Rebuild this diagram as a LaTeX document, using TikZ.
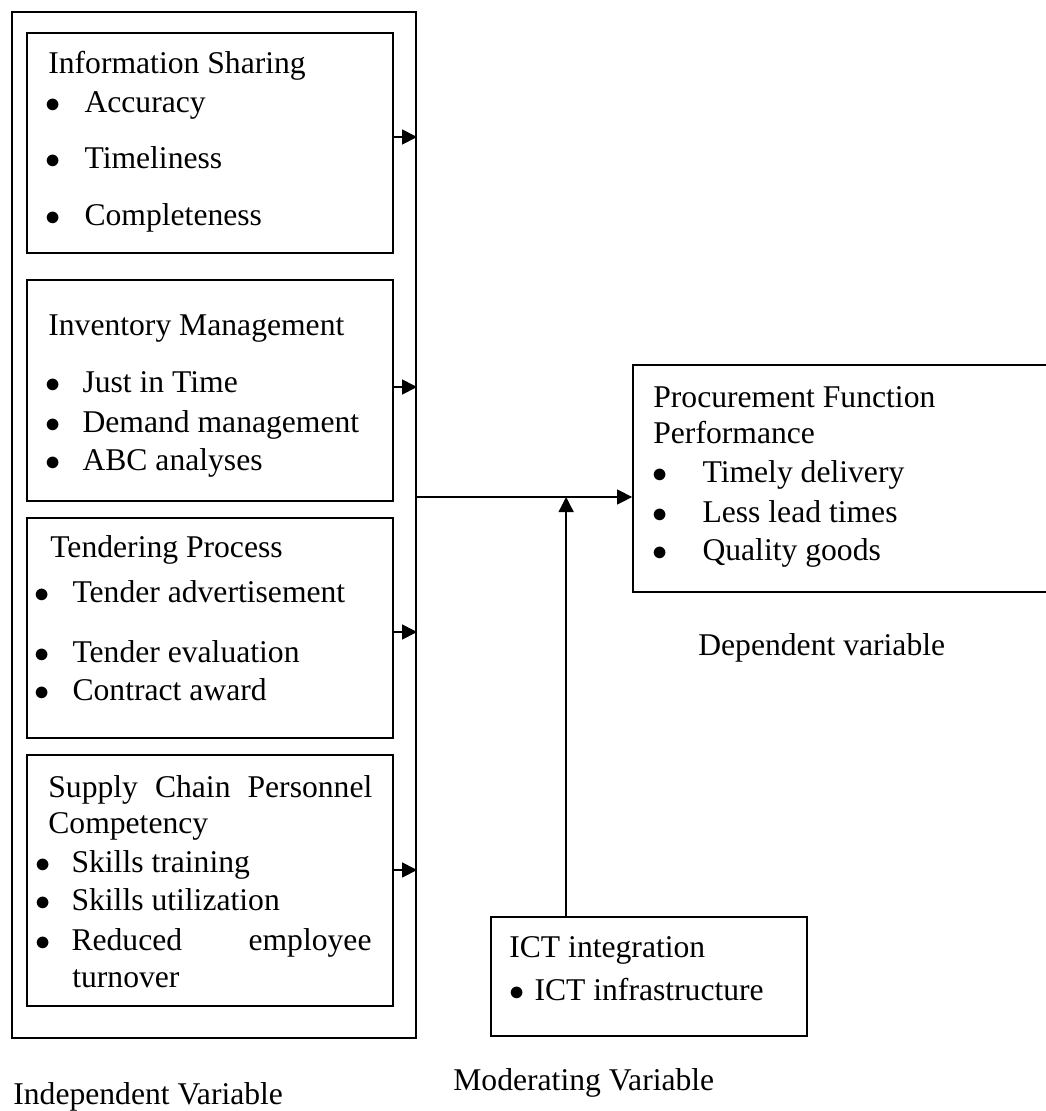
\documentclass[tikz,border=0pt]{standalone}
\usepackage{fontspec}
\setmainfont{Liberation Serif}
\usetikzlibrary{arrows.meta}

\begin{document}
\begin{tikzpicture}[x=.2mm,y=-.2mm,font=\fontsize{18}{21.6}\selectfont,
  box/.style={draw,line width=1pt,inner sep=0pt},
  txt/.style={anchor=base west,inner sep=0pt},
  arr/.style={line width=.8pt,-{Triangle[length=3mm,width=3mm]}}]
\useasboundingbox (0,0) rectangle (1046,1111);
% frames
\node[box,line width=1.2pt,minimum width=8.08cm,minimum height=20.52cm] (indep) at (214,525) {};
\node[box,minimum width=7.32cm,minimum height=4.4cm] (isbox) at (210,143) {};
\node[box,minimum width=7.32cm,minimum height=4.42cm] (imbox) at (210,390.5) {};
\node[box,minimum width=7.32cm,minimum height=4.4cm] (tpbox) at (210,628) {};
\node[box,minimum width=7.32cm,minimum height=5.02cm] (scbox) at (210,880.5) {};
\node[box,minimum width=8.34cm,minimum height=4.54cm] (dv) at (841.5,478.5) {};
\node[box,minimum width=6.32cm,minimum height=2.38cm] (ict) at (649,976.5) {};
% information sharing
\node[txt] (is0) at (48,73) {Information Sharing};
\node[txt] (is1) at (45,112) {$\bullet$\hspace{.48cm}Accuracy};
\node[txt] (is2) at (45,168) {$\bullet$\hspace{.48cm}Timeliness};
\node[txt] (is3) at (45,225) {$\bullet$\hspace{.48cm}Completeness};
% inventory management
\node[txt] (im0) at (48,335) {Inventory Management};
\node[txt] (im1) at (45,392) {$\bullet$\hspace{.44cm}Just in Time};
\node[txt] (im2) at (45,432) {$\bullet$\hspace{.44cm}Demand management};
\node[txt] (im3) at (45,470) {$\bullet$\hspace{.44cm}ABC analyses};
% tendering process
\node[txt] (tp0) at (50,557) {Tendering Process};
\node[txt] (tp1) at (34,602) {$\bullet$\hspace{.46cm}Tender advertisement};
\node[txt] (tp2) at (34,662) {$\bullet$\hspace{.46cm}Tender evaluation};
\node[txt] (tp3) at (34,700) {$\bullet$\hspace{.46cm}Contract award};
% personnel competency
\node[txt] (sc0) at (48,797) {\makebox[6.48cm][s]{Supply Chain Personnel}};
\node[txt] (sc1) at (48,833) {Competency};
\node[txt] (sc2) at (35,872) {$\bullet$\hspace{.42cm}Skills training};
\node[txt] (sc3) at (35,910) {$\bullet$\hspace{.42cm}Skills utilization};
\node[txt] (sc4) at (35,950) {$\bullet$\hspace{.42cm}\makebox[6cm][s]{Reduced employee}};
\node[txt] (sc5) at (72,987) {turnover};
% procurement performance
\node[txt] (dv0) at (653,407) {Procurement Function};
\node[txt] (dv1) at (653,443) {Performance};
\node[txt] (dv2) at (652,482) {$\bullet$\hspace{.7cm}Timely delivery};
\node[txt] (dv3) at (652,522) {$\bullet$\hspace{.7cm}Less lead times};
\node[txt] (dv4) at (652,560) {$\bullet$\hspace{.7cm}Quality goods};
% ict
\node[txt] (ict0) at (509,957) {ICT integration};
\node[txt] (ict1) at (509,1000) {$\bullet$\hspace{.2cm}ICT infrastructure};
% captions
\node[txt] (dvlab) at (698,655) {Dependent variable};
\node[txt] (ivlab) at (13,1104) {Independent Variable};
\node[txt] (mvlab) at (453,1090) {Moderating Variable};
% arrows
\coordinate (a1) at (393,137);
\coordinate (a2) at (393,387);
\coordinate (a3) at (393,632);
\coordinate (a4) at (393,870);
\draw[arr] (a1 -| isbox.east) -- (a1 -| indep.east);
\draw[arr] (a2 -| imbox.east) -- (a2 -| indep.east);
\draw[arr] (a3 -| tpbox.east) -- (a3 -| indep.east);
\draw[arr] (a4 -| scbox.east) -- (a4 -| indep.east);
\coordinate (j) at (416,497);
\draw[arr] (j -| indep.east) -- (j -| dv.west);
\coordinate (mod) at ([xshift=1.52cm]ict.north west);
\draw[arr] (mod) -- (mod |- j);
\end{tikzpicture}
\end{document}
